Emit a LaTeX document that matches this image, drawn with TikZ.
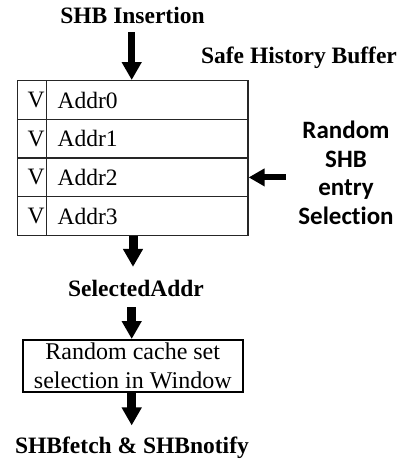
\documentclass[tikz,border=0pt]{standalone}
\usepackage{fontspec}
\setmainfont{Liberation Serif}
\newfontfamily\calibri{Carlito}[Ligatures=NoCommon]
\usetikzlibrary{arrows.meta}

\begin{document}
\begin{tikzpicture}[x=1pt,y=-1pt,font=\fontsize{23.5}{28.3}\selectfont]
		\useasboundingbox (0,0) rectangle (405,464);
		% labels
		\node[anchor=base,font=\fontsize{23.5}{28.3}\selectfont\bfseries] (ins) at (132.5,23.3) {SHB Insertion};
		\node[anchor=base,font=\fontsize{23.5}{28.3}\selectfont\bfseries] (title) at (299,63.3) {Safe History Buffer};
		\node[align=center,font=\fontsize{25}{28.5}\selectfont\calibri\bfseries] (pick) at (346,173) {Random\\SHB\\entry\\Selection};
		% the buffer
		\begin{scope}[every node/.style={draw=black!85,line width=1.3pt,minimum height=38.7pt}]
			\foreach \i in {0,...,3} {
				\node[minimum width=29.4pt,text width=25pt,inner sep=2pt,align=right] (v\i) at (32,100+38.7*\i) {V};
				\node[minimum width=201.3pt,text width=179.3pt,inner sep=11pt,align=left] (a\i) at (147.35,100+38.7*\i) {Addr\i};
			}
		\end{scope}
		\node[anchor=base,font=\fontsize{23.5}{28.3}\selectfont\bfseries] (sel) at (136,296.7) {SelectedAddr};
		\node[draw,line width=2pt,minimum width=219.5pt,minimum height=51.5pt,inner sep=0pt,align=center,
			font=\fontsize{24}{28.3}\selectfont] (win) at (132.75,365.75) {Random cache set\\selection in Window};
		\node[anchor=base,font=\fontsize{23.5}{28.3}\selectfont\bfseries] (out) at (132,453) {SHBfetch \& SHBnotify};
		% arrows
		\begin{scope}[every path/.style={line width=9pt,-{Triangle[length=18pt,width=19pt]}}]
			\draw[line width=6.5pt,shorten <=5pt] (ins.south -| 131.7,0) -- (131.7,0 |- a0.north);
			\draw[shorten >=10pt] (133,0 |- a3.south) -- (133,0 |- sel.north);
			\draw[shorten <=6.7pt] (131.7,0 |- sel.south) -- (131.7,0 |- win.north);
			\draw[shorten >=7.5pt] (131.7,0 |- win.south) -- (131.7,0 |- out.north);
			\draw[line width=6pt,-{Triangle[length=16pt,width=17pt]},shorten <=9pt] (pick.west |- a2.east) -- (a2.east);
		\end{scope}
	\end{tikzpicture}
\end{document}
